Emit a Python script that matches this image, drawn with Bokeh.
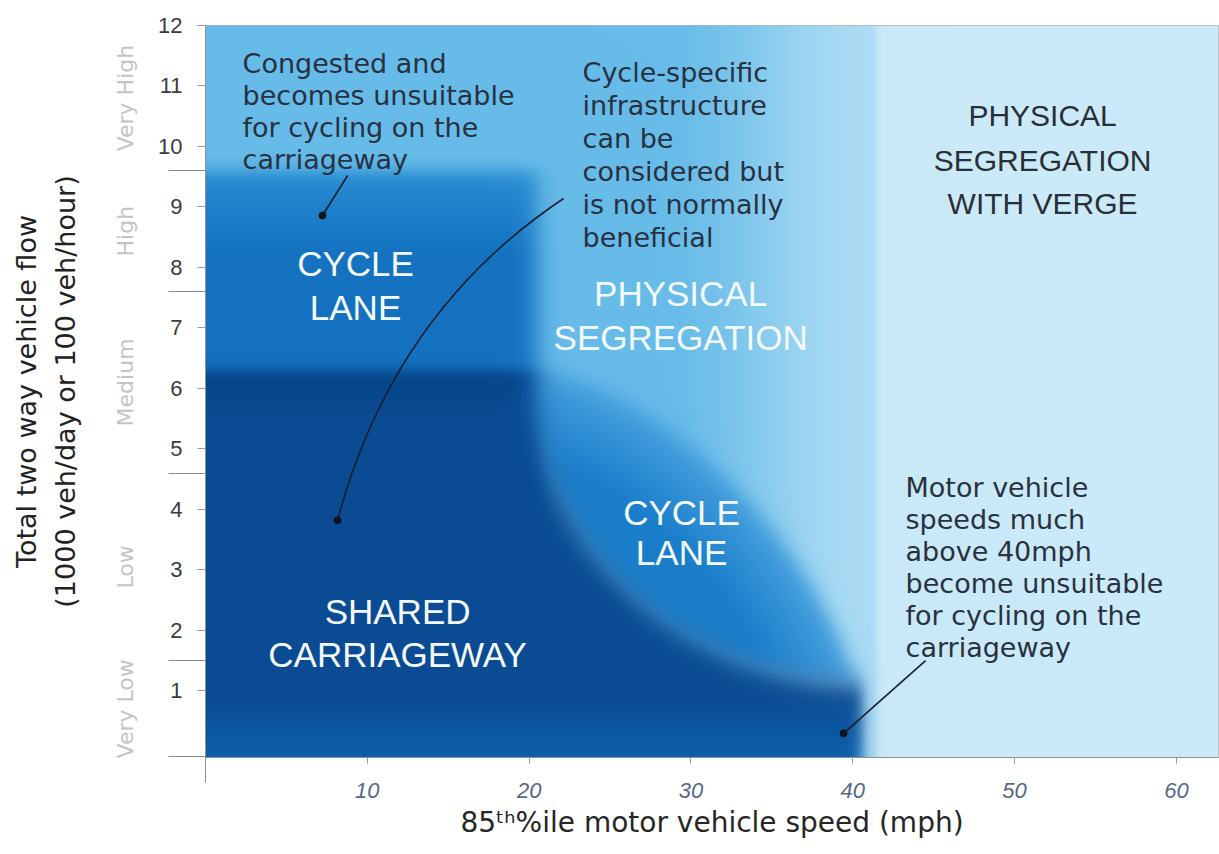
import numpy as np
from bokeh.plotting import figure
from bokeh.models import Range1d, FixedTicker, Label, LinearAxis
from bokeh.embed import file_html
from bokeh.resources import INLINE

# ---------------- data ----------------
speed_ticks = [10, 20, 30, 40, 50, 60]
speed_minor = [0]
flow_ticks = list(range(1, 13))
band_names = ["Very Low", "Low", "Medium", "High", "Very High"]
band_edges = [-0.09, 1.5, 4.6, 7.6, 9.6, 12.0]

X_MAX = 62.6
Y_MIN, Y_MAX = -0.1, 12.0

# region thresholds (speed mph, flow)
shared_top = 6.3
cycle_lane_top = 9.6
cycle_lane_right = 20.5
shared_right = 40.6
verge_speed = 41.5
lens_upper = dict(cx=20.3, cy=0.0, a=20.8, b=6.3, n=1.6)
lens_lower = dict(cx=41.2, cy=6.3, a=21.0, b=5.2, n=2.0)

# colours
c_pale = np.array([203, 234, 249], float)
c_light_a = np.array([104, 188, 233], float)
c_light_b = np.array([172, 220, 244], float)
c_lens_core = np.array([26, 126, 203], float)
c_lens_edge = np.array([72, 162, 223], float)
c_tl_top = np.array([40, 140, 210], float)
c_tl_mid = np.array([20, 114, 193], float)
c_dark = np.array([10, 75, 147], float)
c_dark_bottom = np.array([14, 96, 172], float)
c_dark_top = np.array([6, 62, 130], float)

# texts
x_title = "85ᵗʰ%ile motor vehicle speed (mph)"
y_title = "Total two way vehicle flow\n(1000 veh/day or 100 veh/hour)"
note_congested = ["Congested and", "becomes unsuitable", "for cycling on the", "carriageway"]
note_specific = ["Cycle-specific", "infrastructure", "can be", "considered but",
                 "is not normally", "beneficial"]
note_motor = ["Motor vehicle", "speeds much", "above 40mph", "become unsuitable",
              "for cycling on the", "carriageway"]
region_labels = [
    (["CYCLE", "LANE"], 9.27, [8.07, 7.34], "#f4faff", 35),
    (["PHYSICAL", "SEGREGATION"], 29.36, [7.57, 6.84], "#f4faff", 35),
    (["CYCLE", "LANE"], 29.42, [3.95, 3.29], "#f4faff", 35),
    (["SHARED", "CARRIAGEWAY"], 11.87, [2.31, 1.60], "#f4faff", 35),
    (["PHYSICAL", "SEGREGATION", "WITH VERGE"], 51.73, [10.51, 9.77, 9.06], "#2a2e35", 30),
]
# pointer anchors (start, end[, control])
ptr_congested = dict(x0=8.78, y0=9.52, x1=7.23, y1=8.86)
ptr_specific = dict(x0=22.13, y0=9.14, cx=11.59, cy=7.26, x1=8.16, y1=3.82)
ptr_motor = dict(x0=44.5, y0=1.50, x1=39.43, y1=0.30)

# ---------------- background image ----------------
NX, NY = 1013, 732
xs = (np.arange(NX) + 0.5) / NX * X_MAX
ys = Y_MIN + (np.arange(NY) + 0.5) / NY * (Y_MAX - Y_MIN)
X, Y = np.meshgrid(xs, ys)
SX = NX / X_MAX
SY = NY / (Y_MAX - Y_MIN)


def soft(d, w):
    return 1.0 / (1.0 + np.exp(-np.clip(d / w, -60, 60)))


def over(base, col, alpha):
    a = alpha[..., None]
    return base * (1 - a) + col * a


def sdist(p):
    r = ((np.abs(X - p["cx"]) / p["a"]) ** p["n"] + (np.abs(Y - p["cy"]) / p["b"]) ** p["n"]) ** (1.0 / p["n"])
    R = 0.5 * (p["a"] * SX + p["b"] * SY)
    return (1 - r) * R  # positive inside, px


img = np.empty((NY, NX, 3))
img[:] = c_pale

t = np.clip((X - 28.0) / (41.3 - 28.0), 0, 1)
t = t * t * (3 - 2 * t)
col_light = c_light_a + (c_light_b - c_light_a) * t[..., None]
img = over(img, col_light, soft((verge_speed - X) * SX, 2.0))

d_up = sdist(lens_upper)
d_lo = sdist(lens_lower)
m = np.clip(d_up / 90.0, 0, 1)[..., None]
col_lens = c_lens_edge + (c_lens_core - c_lens_edge) * m
img = over(img, col_lens, soft(d_up, 6.0) * soft(d_lo, 6.0))

tt = np.clip((cycle_lane_top - Y) / 1.4, 0, 1)[..., None]
col_tl = c_tl_top + (c_tl_mid - c_tl_top) * tt
img = over(img, col_tl, soft((cycle_lane_right - X) * SX, 7.0) * soft((cycle_lane_top - Y) * SY, 5.0))

tb = np.clip((0.9 - Y) / 1.0, 0, 1)[..., None]
tp = np.clip((Y - 5.5) / 0.8, 0, 1)[..., None]
col_dark = c_dark + (c_dark_bottom - c_dark) * tb
col_dark = col_dark + (c_dark_top - col_dark) * tp * 0.6
a_dark = soft((shared_top - Y) * SY, 3.5) * soft(-d_lo, 7.0) * soft((shared_right - X) * SX, 4.0)
img = over(img, col_dark, a_dark)

rgb = np.clip(img, 0, 255).astype(np.uint8)
rgba = np.dstack([rgb, np.full((NY, NX, 1), 255, np.uint8)])
rgba = np.ascontiguousarray(rgba).view(np.uint32).reshape(NY, NX)

# ---------------- figure ----------------
p = figure(width=1219, height=854, output_backend="svg", toolbar_location=None,
           x_range=Range1d(0, X_MAX), y_range=Range1d(Y_MIN, Y_MAX),
           min_border_left=205, min_border_right=1, min_border_top=25, min_border_bottom=97)
p.background_fill_color = "white"
p.border_fill_color = "white"
p.outline_line_color = "#b5b5b5"
p.grid.visible = False

p.image_rgba(image=[rgba], x=0, y=Y_MIN, dw=X_MAX, dh=Y_MAX - Y_MIN)

# x axis
xa = p.xaxis[0]
xa.ticker = FixedTicker(ticks=speed_ticks, minor_ticks=speed_minor)
xa.major_tick_out = 6
xa.major_tick_in = 0
xa.minor_tick_out = 25
xa.minor_tick_in = 0
xa.major_tick_line_color = "#9a9a9a"
xa.minor_tick_line_color = "#8a8a8a"
xa.axis_line_color = "#8f8f8f"
xa.major_label_standoff = 0
xa.major_label_text_font = "Liberation Sans"
xa.major_label_text_font_style = "italic"
xa.major_label_text_font_size = "22px"
xa.major_label_text_color = "#56678a"
xa.axis_label = x_title
xa.axis_label_text_font = "DejaVu Sans"
xa.axis_label_text_font_style = "normal"
xa.axis_label_text_font_size = "28px"
xa.axis_label_text_color = "#262626"
xa.axis_label_standoff = 5

# inner y axis: numbers + band separators
ya = p.yaxis[0]
ya.ticker = FixedTicker(ticks=flow_ticks, minor_ticks=band_edges[:-1])
ya.major_tick_out = 8
ya.major_tick_in = 0
ya.minor_tick_out = 37
ya.minor_tick_in = 0
ya.major_tick_line_color = "#9a9a9a"
ya.minor_tick_line_color = "#8a8a8a"
ya.axis_line_color = "#8f8f8f"
ya.major_label_standoff = -14
ya.major_label_text_font = "Liberation Sans"
ya.major_label_text_font_size = "22px"
ya.major_label_text_color = "#3c3c3c"

# outer y axis: band names + title
band_mids = [(lo + hi) / 2 for lo, hi in zip(band_edges[:-1], band_edges[1:])]
yb = LinearAxis(ticker=FixedTicker(ticks=band_mids, minor_ticks=[]),
                major_label_overrides={m_: n_ for m_, n_ in zip(band_mids, band_names)})
yb.axis_line_color = None
yb.major_tick_line_color = None
yb.minor_tick_line_color = None
yb.major_tick_out = 0
yb.major_tick_in = 0
yb.minor_tick_out = 0
yb.minor_tick_in = 0
yb.major_label_orientation = "vertical"
yb.major_label_standoff = 17
yb.major_label_text_font = "DejaVu Sans"
yb.major_label_text_font_size = "22px"
yb.major_label_text_color = "#c4c4c4"
yb.axis_label = y_title
yb.axis_label_text_font = "DejaVu Sans"
yb.axis_label_text_font_style = "normal"
yb.axis_label_text_font_size = "27px"
yb.axis_label_text_color = "#222222"
yb.axis_label_text_line_height = 1.25
yb.axis_label_standoff = 30
p.add_layout(yb, "left")


def add_note(lines, x, y0, step):
    for i, ln in enumerate(lines):
        p.add_layout(Label(x=x, y=y0 - i * step, text=ln, text_align="left", text_baseline="alphabetic",
                           text_font="DejaVu Sans", text_font_size="27px", text_color="#27313f"))


add_note(note_congested, 2.29, 11.37, 0.529)
add_note(note_specific, 23.3, 11.22, 0.545)
add_note(note_motor, 43.26, 4.37, 0.529)

for lines, x, yl, col, fs in region_labels:
    for ln, yy in zip(lines, yl):
        p.add_layout(Label(x=x, y=yy, text=ln, text_align="center", text_baseline="middle",
                           text_font="Liberation Sans", text_font_size=f"{fs}px", text_color=col))

# pointers
lc = "#16202c"
p.segment(x0=[ptr_congested["x0"], ptr_motor["x0"]], y0=[ptr_congested["y0"], ptr_motor["y0"]],
          x1=[ptr_congested["x1"], ptr_motor["x1"]], y1=[ptr_congested["y1"], ptr_motor["y1"]],
          line_color=lc, line_width=1.6)
p.quadratic(x0=[ptr_specific["x0"]], y0=[ptr_specific["y0"]], x1=[ptr_specific["x1"]],
            y1=[ptr_specific["y1"]], cx=[ptr_specific["cx"]], cy=[ptr_specific["cy"]],
            line_color=lc, line_width=1.6)
p.scatter(x=[ptr_congested["x1"], ptr_specific["x1"], ptr_motor["x1"]],
          y=[ptr_congested["y1"], ptr_specific["y1"], ptr_motor["y1"]],
          size=7, color="#0d141c")

open("out.html", "w").write(file_html(p, INLINE))
